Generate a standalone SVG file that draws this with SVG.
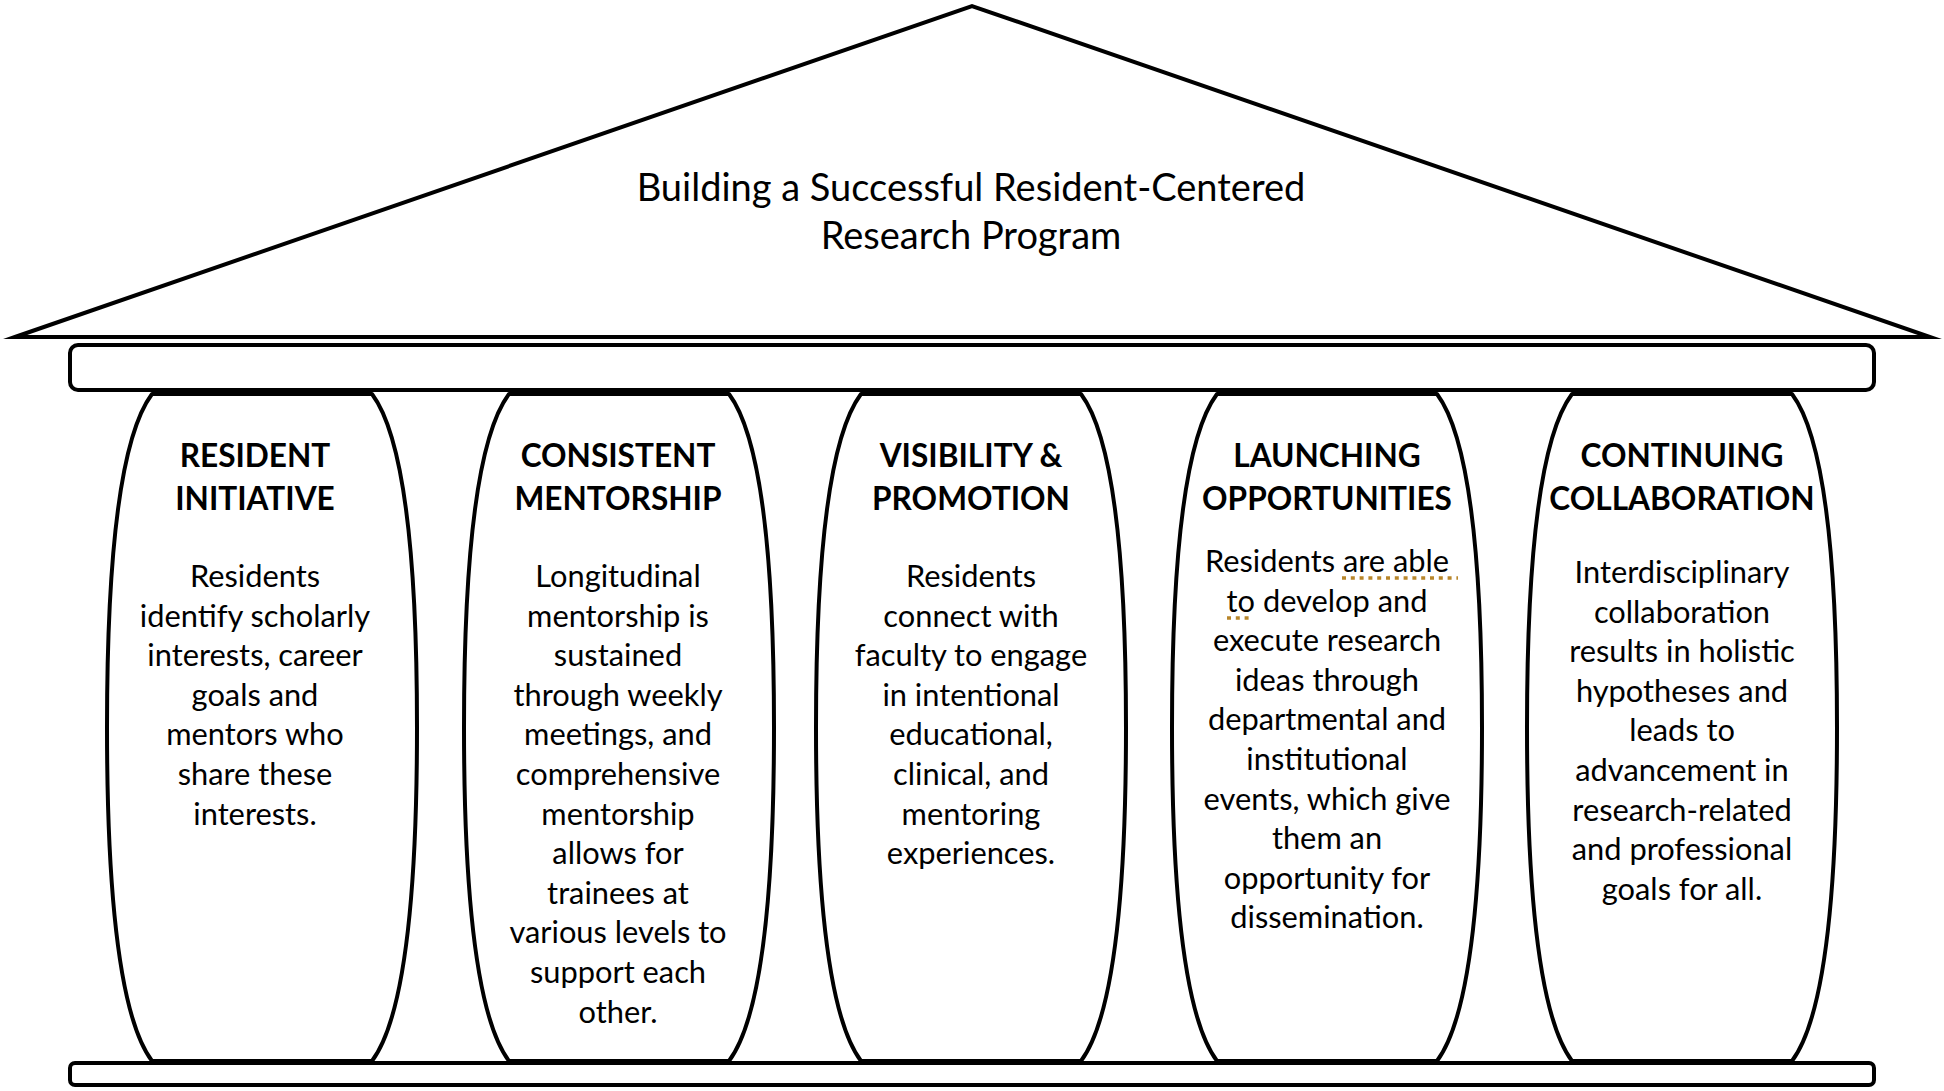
<svg xmlns="http://www.w3.org/2000/svg" width="1944" height="1091" viewBox="0 0 1944 1091">
<style>
.shape{fill:#fff;stroke:#000;stroke-width:4;stroke-linejoin:round}
.title{font-family:Lato,"Open Sans",sans-serif;font-size:38px;fill:#000;text-anchor:middle}
.head{font-family:Lato,"Open Sans",sans-serif;font-size:31.6px;font-weight:bold;fill:#000;text-anchor:middle}
.body{font-family:Lato,"Open Sans",sans-serif;font-size:30.8px;fill:#000;text-anchor:middle}
.gram{stroke:#B8862B;stroke-width:3.5;stroke-dasharray:4 4.8;fill:none}
</style>
<rect width="1944" height="1091" fill="#fff"/>
<g id="roof">
<polygon points="15,337 972,6 1930,337" fill="#fff" stroke="#000" stroke-width="4" stroke-linejoin="miter" stroke-miterlimit="10"/>
<text class="title" x="971" y="201">Building a Successful Resident-Centered</text>
<text class="title" x="971" y="249">Research Program</text>
</g>
<g id="beam"><rect class="shape" x="70" y="345" width="1804" height="45" rx="8"/></g>
<g id="base"><rect class="shape" x="70" y="1063" width="1804" height="22" rx="5"/></g>
<g id="connectors"></g>
<g id="col1">
<path class="shape" d="M152,394 C122,434 107,544 107,727.5 C107,911 122,1021 152,1061 L372,1061 C402,1021 417,911 417,727.5 C417,544 402,434 372,394 Z"/>
<text class="head" x="255" y="467">RESIDENT</text>
<text class="head" x="255" y="510">INITIATIVE</text>
<text class="body" x="255" y="587">Residents</text>
<text class="body" x="255" y="626.6">identify scholarly</text>
<text class="body" x="255" y="666.2">interests, career</text>
<text class="body" x="255" y="705.8">goals and</text>
<text class="body" x="255" y="745.4">mentors who</text>
<text class="body" x="255" y="785">share these</text>
<text class="body" x="255" y="824.6">interests.</text>
</g>
<g id="col2">
<path class="shape" d="M509,394 C479,434 464,544 464,727.5 C464,911 479,1021 509,1061 L729,1061 C759,1021 774,911 774,727.5 C774,544 759,434 729,394 Z"/>
<text class="head" x="618" y="467">CONSISTENT</text>
<text class="head" x="618" y="510">MENTORSHIP</text>
<text class="body" x="618" y="587">Longitudinal</text>
<text class="body" x="618" y="626.6">mentorship is</text>
<text class="body" x="618" y="666.2">sustained</text>
<text class="body" x="618" y="705.8">through weekly</text>
<text class="body" x="618" y="745.4">meetings, and</text>
<text class="body" x="618" y="785">comprehensive</text>
<text class="body" x="618" y="824.6">mentorship</text>
<text class="body" x="618" y="864.2">allows for</text>
<text class="body" x="618" y="903.8">trainees at</text>
<text class="body" x="618" y="943.4">various levels to</text>
<text class="body" x="618" y="983">support each</text>
<text class="body" x="618" y="1022.6">other.</text>
</g>
<g id="col3">
<path class="shape" d="M861,394 C831,434 816,544 816,727.5 C816,911 831,1021 861,1061 L1081,1061 C1111,1021 1126,911 1126,727.5 C1126,544 1111,434 1081,394 Z"/>
<text class="head" x="971" y="467">VISIBILITY &amp;</text>
<text class="head" x="971" y="510">PROMOTION</text>
<text class="body" x="971" y="587">Residents</text>
<text class="body" x="971" y="626.6">connect with</text>
<text class="body" x="971" y="666.2">faculty to engage</text>
<text class="body" x="971" y="705.8">in intentional</text>
<text class="body" x="971" y="745.4">educational,</text>
<text class="body" x="971" y="785">clinical, and</text>
<text class="body" x="971" y="824.6">mentoring</text>
<text class="body" x="971" y="864.2">experiences.</text>
</g>
<g id="col4">
<path class="shape" d="M1217,394 C1187,434 1172,544 1172,727.5 C1172,911 1187,1021 1217,1061 L1437,1061 C1467,1021 1482,911 1482,727.5 C1482,544 1467,434 1437,394 Z"/>
<text class="head" x="1327" y="467">LAUNCHING</text>
<text class="head" x="1327" y="510">OPPORTUNITIES</text>
<text class="body" x="1327" y="572">Residents are able</text>
<text class="body" x="1327" y="611.6">to develop and</text>
<text class="body" x="1327" y="651.2">execute research</text>
<text class="body" x="1327" y="690.8">ideas through</text>
<text class="body" x="1327" y="730.4">departmental and</text>
<text class="body" x="1327" y="770">institutional</text>
<text class="body" x="1327" y="809.6">events, which give</text>
<text class="body" x="1327" y="849.2">them an</text>
<text class="body" x="1327" y="888.8">opportunity for</text>
<text class="body" x="1327" y="928.4">dissemination.</text>
<line class="gram" x1="1342" y1="578" x2="1458" y2="578"/>
<line class="gram" x1="1227" y1="618" x2="1253" y2="618"/>
</g>
<g id="col5">
<path class="shape" d="M1572,394 C1542,434 1527,544 1527,727.5 C1527,911 1542,1021 1572,1061 L1792,1061 C1822,1021 1837,911 1837,727.5 C1837,544 1822,434 1792,394 Z"/>
<text class="head" x="1682" y="467">CONTINUING</text>
<text class="head" x="1682" y="510">COLLABORATION</text>
<text class="body" x="1682" y="583">Interdisciplinary</text>
<text class="body" x="1682" y="622.6">collaboration</text>
<text class="body" x="1682" y="662.2">results in holistic</text>
<text class="body" x="1682" y="701.8">hypotheses and</text>
<text class="body" x="1682" y="741.4">leads to</text>
<text class="body" x="1682" y="781">advancement in</text>
<text class="body" x="1682" y="820.6">research-related</text>
<text class="body" x="1682" y="860.2">and professional</text>
<text class="body" x="1682" y="899.8">goals for all.</text>
</g>
</svg>
